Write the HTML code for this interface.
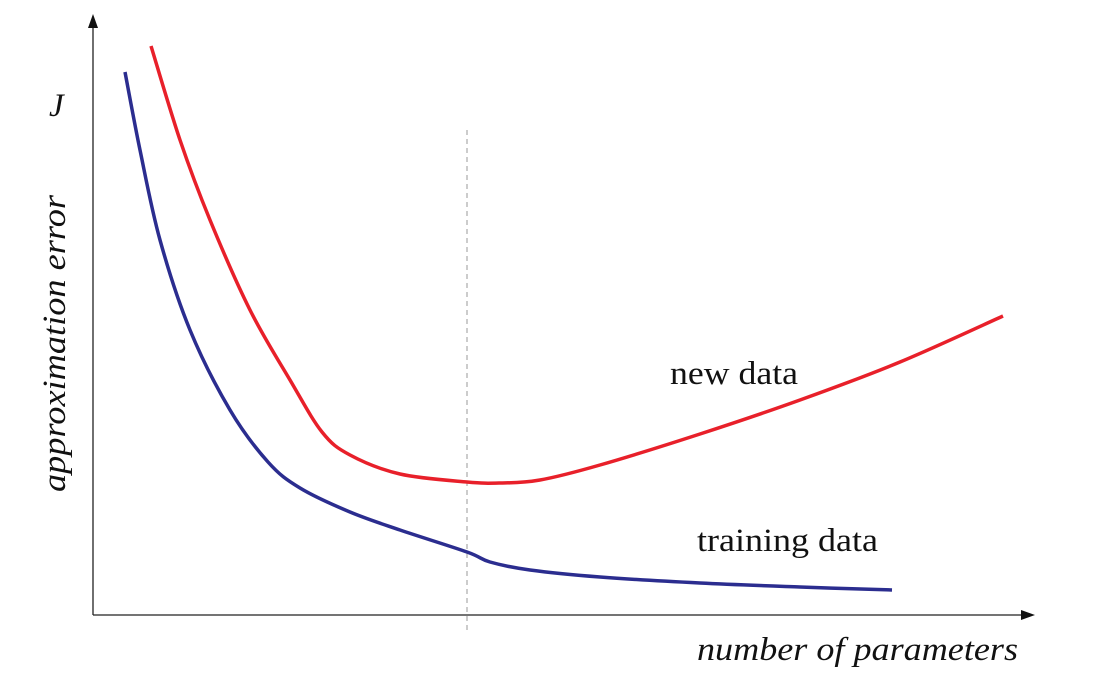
<!DOCTYPE html>
<html><head><meta charset="utf-8"><style>
html,body{margin:0;padding:0;background:#fff;}
svg{display:block;}
text{font-family:"Liberation Serif",serif;fill:#111;}
</style></head><body>
<svg id="chart" width="1098" height="675" viewBox="0 0 1098 675">
<g id="axes">
<line x1="93" y1="615" x2="93" y2="26" stroke="#222" stroke-width="1.3"/>
<polygon points="93,14 88,28 98,28" fill="#111"/>
<line x1="93" y1="615" x2="1022" y2="615" stroke="#222" stroke-width="1.3"/>
<polygon points="1035,615 1021,610 1021,620" fill="#111"/>
<line x1="467" y1="130" x2="467" y2="633" stroke="#999" stroke-width="1" stroke-dasharray="5,4"/>
</g>
<text x="49" y="116" font-size="33" font-style="italic">J</text>
<text transform="translate(65,492) rotate(-90)" font-size="33" font-style="italic" textLength="297" lengthAdjust="spacingAndGlyphs">approximation error</text>
<text x="697" y="660" font-size="33" font-style="italic" textLength="321" lengthAdjust="spacingAndGlyphs">number of parameters</text>
<text x="670" y="384" font-size="33" textLength="128" lengthAdjust="spacingAndGlyphs">new data</text>
<text x="697" y="551" font-size="33" textLength="181" lengthAdjust="spacingAndGlyphs">training data</text>
<g id="series"></g>
</svg>
<script>
const newX = [58,87,117,157,197,229,257,307,374,407,447,507,607,707,807,910];
const newY = [569,475,395,305,235,183,160,141,133,132,135,150,181,215,253,299];
const trainX = [32,47,67,97,137,175,207,257,307,374,397,437,507,607,707,799];
const trainY = [543,465,375,285,205,153,127,103,85,63,53,45,38,32,28,25];
const xScale = v => 93 + v;
const yScale = v => 615 - v;
function pathFor(xs, ys){
  const p = xs.map((x,i)=>[xScale(x), yScale(ys[i])]);
  let d = `M${p[0][0]},${p[0][1]}`;
  for(let i=0;i<p.length-1;i++){
    const p0=p[Math.max(0,i-1)], p1=p[i], p2=p[i+1], p3=p[Math.min(p.length-1,i+2)];
    const c1=[p1[0]+(p2[0]-p0[0])/6, p1[1]+(p2[1]-p0[1])/6];
    const c2=[p2[0]-(p3[0]-p1[0])/6, p2[1]-(p3[1]-p1[1])/6];
    d += ` C${c1[0]},${c1[1]} ${c2[0]},${c2[1]} ${p2[0]},${p2[1]}`;
  }
  return d;
}
const g = document.getElementById('series');
const ns = 'http://www.w3.org/2000/svg';
const red = document.createElementNS(ns,'path');
red.setAttribute('d', pathFor(newX,newY));
red.setAttribute('fill','none'); red.setAttribute('stroke','#e8202a'); red.setAttribute('stroke-width','3.5');


g.appendChild(red);
const blue = document.createElementNS(ns,'path');
blue.setAttribute('d', pathFor(trainX,trainY));
blue.setAttribute('fill','none'); blue.setAttribute('stroke','#2b2d8f'); blue.setAttribute('stroke-width','3.5');


g.appendChild(blue);
</script>
</body></html>
